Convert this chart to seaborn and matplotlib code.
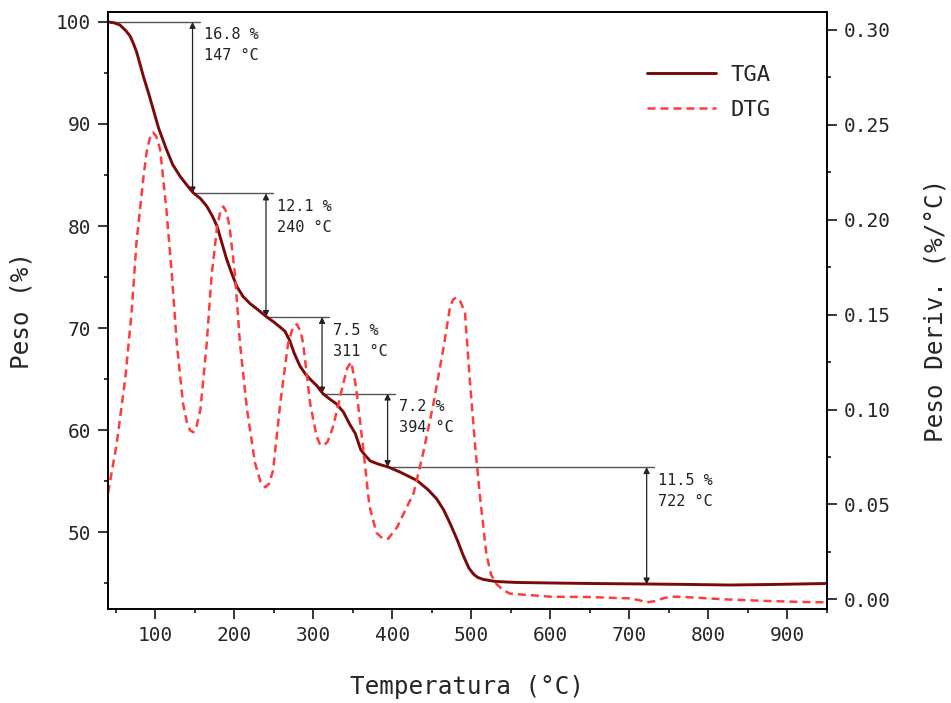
import numpy as np
import matplotlib
matplotlib.use("Agg")
import matplotlib.pyplot as plt
import seaborn as sns
from matplotlib.ticker import MultipleLocator

# ---------------- data ----------------
tga_T = [40, 48, 55, 63, 68, 72, 76, 80, 85, 91, 97, 104, 114, 122, 131, 140, 148, 157,
         165, 172, 178, 184, 190, 196, 203, 211, 220, 230, 241, 250, 258, 264,
         270, 276, 283, 290, 296, 304, 312, 320, 329, 338, 346, 353, 360, 365,
         372, 382, 395, 410, 431, 445, 456, 465, 473, 482, 490, 497, 503, 508,
         515, 530, 557, 600, 650, 722, 780, 827, 880, 950]
tga_w = [100.0, 99.9, 99.7, 99.1, 98.6, 97.9, 97.1, 96.0, 94.6, 93.1, 91.5, 89.6, 87.5, 86.0,
         84.9, 84.0, 83.25, 82.7, 81.95, 81.0, 80.0, 78.4, 76.8, 75.5, 74.1, 73.1,
         72.4, 71.8, 71.1, 70.6, 70.1, 69.7, 68.8, 67.5, 66.3, 65.5, 65.0, 64.4,
         63.6, 63.1, 62.6, 61.8, 60.6, 59.7, 58.1, 57.6, 57.0, 56.7, 56.4, 55.9,
         55.1, 54.2, 53.3, 52.2, 50.9, 49.3, 47.7, 46.5, 45.9, 45.6, 45.4, 45.2,
         45.1, 45.05, 45.0, 44.95, 44.9, 44.85, 44.9, 45.0]

dtg_T = [40, 51, 62, 70, 76, 85, 89, 93, 97, 101, 106, 114, 121, 127, 135, 140, 144, 148,
         152, 157, 165, 171, 178, 182, 186, 190, 194, 201, 207, 216, 226, 233, 239, 244, 249,
         258, 268, 274, 279, 284, 287, 296, 304, 308, 313, 318, 325, 338, 343, 348, 354,
         363, 371, 380, 388, 395, 406, 427, 439, 452, 465, 473, 477, 481, 486, 492,
         498, 505, 511, 519, 525, 532, 540, 549, 600, 650, 700, 712, 722, 732, 745, 757, 780,
         820, 870, 920, 950]
dtg_v = [0.056, 0.082, 0.117, 0.152, 0.188, 0.223, 0.236, 0.243, 0.246, 0.244, 0.237,
         0.205, 0.170, 0.135, 0.103, 0.093, 0.089, 0.088, 0.091, 0.100, 0.135, 0.170,
         0.196, 0.204, 0.207, 0.204, 0.196, 0.170, 0.135, 0.100, 0.072, 0.062, 0.059, 0.061,
         0.068, 0.103, 0.135, 0.143, 0.145, 0.141, 0.135, 0.103, 0.086, 0.082, 0.081,
         0.083, 0.091, 0.114, 0.122, 0.125, 0.112, 0.080, 0.049, 0.035, 0.032,
         0.032, 0.038, 0.056, 0.077, 0.103, 0.133, 0.154, 0.158, 0.159, 0.157,
         0.151, 0.116, 0.080, 0.054, 0.024, 0.013, 0.008, 0.005, 0.003, 0.0014, 0.0012, 0.0005,
         -0.0004, -0.0016, -0.0010, 0.0008, 0.0014, 0.0010, 0.0000, -0.0008,
         -0.0014, -0.0016]

# mass-loss steps
step_T = [147, 240, 311, 394, 722]
step_loss = [16.8, 12.1, 7.5, 7.2, 11.5]

# ---------------- style ----------------
sns.set_style("ticks")
plt.rcParams["font.family"] = ["DejaVu Sans Mono", "DejaVu Sans"]
plt.rcParams["axes.linewidth"] = 1.2
plt.rcParams["xtick.major.width"] = 1.1
plt.rcParams["ytick.major.width"] = 1.1
plt.rcParams["xtick.minor.width"] = 1.1
plt.rcParams["ytick.minor.width"] = 1.1

TGA_C = "#7a0a0a"
DTG_C = "#ff3c3c"

fig = plt.figure(figsize=(9.51, 7.03), dpi=100)
ax = fig.add_axes([0.1136, 0.1337, 0.7557, 0.8497])
ax2 = ax.twinx()

sns.lineplot(x=tga_T, y=tga_w, ax=ax, color=TGA_C, lw=2.1, label="TGA",
             legend=False, zorder=3)
sns.lineplot(x=dtg_T, y=dtg_v, ax=ax2, color=DTG_C, lw=1.8, label="DTG",
             legend=False, linestyle="--")
for ln in ax2.get_lines():
    ln.set_dashes((3.2, 2.0))

ax.set_xlim(40, 950)
ax.set_ylim(42.5, 101)
ax2.set_ylim(-0.0051, 0.3096)

ax.xaxis.set_major_locator(MultipleLocator(100))
ax.xaxis.set_minor_locator(MultipleLocator(50))
ax.yaxis.set_major_locator(MultipleLocator(10))
ax.yaxis.set_minor_locator(MultipleLocator(5))
ax2.yaxis.set_major_locator(MultipleLocator(0.05))
ax2.yaxis.set_minor_locator(MultipleLocator(0.025))
ax2.yaxis.set_major_formatter(matplotlib.ticker.FormatStrFormatter("%.2f"))

for a in (ax, ax2):
    a.tick_params(which="major", length=7, direction="out", labelsize=14,
                  color="black", pad=5)
    a.tick_params(which="minor", length=3, direction="out", color="black")
    for s in a.spines.values():
        s.set_visible(True)
        s.set_color("black")
        s.set_linewidth(1.2)
ax.tick_params(axis="x", top=False, which="both")
ax2.tick_params(axis="y", right=True, left=False, which="both")

ax.set_xlabel("Temperatura (°C)", fontsize=17.5, labelpad=22)
ax.set_ylabel("Peso (%)", fontsize=17.5, labelpad=16)
ax2.set_ylabel("Peso Deriv. (%/°C)", fontsize=17.5, labelpad=24)

# ---------------- step annotations ----------------
levels = [100.0]
for l in step_loss:
    levels.append(round(levels[-1] - l, 2))
prev_T = [40] + step_T[:-1]
for i, (T, loss) in enumerate(zip(step_T, step_loss)):
    upper, lower = levels[i], levels[i + 1]
    x0 = prev_T[i]
    ax.plot([x0, T + 9], [upper, upper], color="#555555", lw=1.0, zorder=2)
    ax.annotate("", xy=(T, lower), xytext=(T, upper),
                arrowprops=dict(arrowstyle="<|-|>", color="#222222", lw=0.9,
                                mutation_scale=9, shrinkA=0, shrinkB=0),
                zorder=2)
    ax.annotate(f"{loss} %\n{T} °C", xy=(T, upper), xytext=(8, -4),
                textcoords="offset points", ha="left", va="top",
                fontsize=11, linespacing=1.5, color="#222222")

# ---------------- legend ----------------
h1, l1 = ax.get_legend_handles_labels()
h2, l2 = ax2.get_legend_handles_labels()
leg = ax2.legend(h1 + h2, l1 + l2, loc="center left",
                 bbox_to_anchor=(0.7496, 0.8647), frameon=False, fontsize=16,
                 handlelength=3.1, handletextpad=0.65, borderpad=0,
                 labelspacing=0.65, borderaxespad=0)

fig.savefig("out.png", dpi=100)
